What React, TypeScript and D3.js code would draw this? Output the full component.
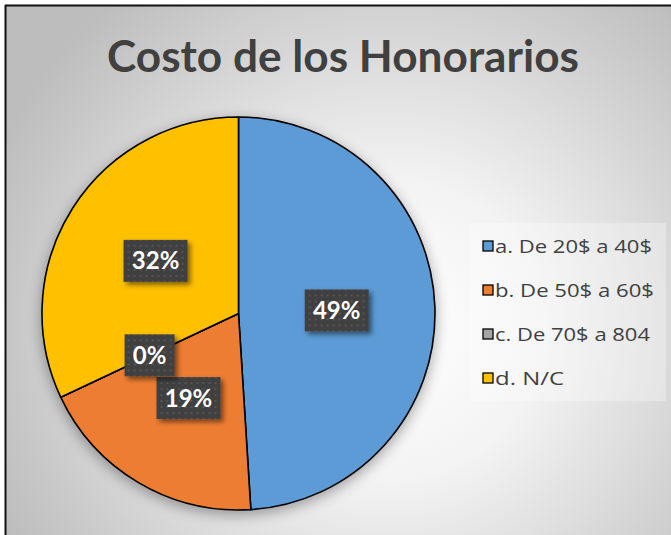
import React from "react";
import * as d3 from "d3";

const categories = ["a. De 20$ a 40$", "b. De 50$ a 60$", "c. De 70$ a 804", "d. N/C"];
const values = [49, 19, 0, 32];
const colors = ["#5B9BD5", "#ED7D31", "#A5A5A5", "#FFC000"];
const legendWidths = [157, 159, 155, 69];
const title = "Costo de los Honorarios";

export default function App() {
  const W = 671, H = 535;
  const cx = 238.5, cy = 313.5, r = 196.5;
  const pie = d3.pie<number>().sort(null).value((d) => d);
  const arcs = pie(values);
  const arc = d3.arc<d3.PieArcDatum<number>>().innerRadius(0).outerRadius(r);
  const total = d3.sum(values);
  const fmt = (v: number) => `${Math.round((v / total) * 100)}%`;
  const font = "Lato, 'Open Sans', sans-serif";

  return (
    <svg width={W} height={H} style={{ position: "absolute", left: 0, top: 0 }}>
      <defs>
        <radialGradient id="bg" cx="390" cy="330" r="430" gradientUnits="userSpaceOnUse">
          <stop offset="0" stopColor="#ffffff" />
          <stop offset="0.35" stopColor="#f3f3f3" />
          <stop offset="1" stopColor="#bdbdbd" />
        </radialGradient>
        <pattern id="dots" width="6" height="6" patternUnits="userSpaceOnUse">
          <rect width="6" height="6" fill="#404040" />
          <rect x="2" y="2" width="2" height="2" fill="#555555" />
        </pattern>
        <filter id="pieShadow" x="-20%" y="-20%" width="140%" height="140%">
          <feGaussianBlur in="SourceAlpha" stdDeviation="7" />
          <feOffset dx="0" dy="4" result="b" />
          <feComponentTransfer><feFuncA type="linear" slope="0.35" /></feComponentTransfer>
          <feMerge><feMergeNode /><feMergeNode in="SourceGraphic" /></feMerge>
        </filter>
        <filter id="lblShadow" x="-30%" y="-30%" width="160%" height="160%">
          <feGaussianBlur in="SourceAlpha" stdDeviation="2.5" />
          <feOffset dx="3" dy="3" />
          <feComponentTransfer><feFuncA type="linear" slope="0.5" /></feComponentTransfer>
          <feMerge><feMergeNode /><feMergeNode in="SourceGraphic" /></feMerge>
        </filter>
      </defs>
      <rect x={0} y={0} width={W} height={H} fill="#ffffff" />
      <rect x={6} y={6} width={W} height={H} fill="url(#bg)" />
      <line x1={5.5} y1={5} x2={5.5} y2={H} stroke="#111" strokeWidth={2} />
      <line x1={5} y1={5.5} x2={W} y2={5.5} stroke="#111" strokeWidth={2} />

      <text x={343} y={72} textAnchor="middle" fontFamily={font} fontWeight="bold" fontSize={44}
        fill="#404040" textLength={472} lengthAdjust="spacingAndGlyphs">{title}</text>

      <g transform={`translate(${cx},${cy})`}>
        <g filter="url(#pieShadow)">
          {arcs.map((a, i) => (
            <path key={i} d={arc(a) || ""} fill={colors[i]} stroke="#000" strokeWidth={1.6} strokeLinejoin="round" />
          ))}
        </g>
        {arcs.map((a, i) => {
          const [lx, ly] = arc.centroid(a);
          const txt = fmt(values[i]);
          const bw = txt.length > 2 ? 64 : 50;
          const bh = 42;
          return (
            <g key={"l" + i} transform={`translate(${lx},${ly})`}>
              <rect x={-bw / 2} y={-bh / 2} width={bw} height={bh} fill="url(#dots)" filter="url(#lblShadow)" />
              <text x={0} y={8.5} textAnchor="middle" fontFamily={font} fontWeight="bold" fontSize={24} fill="#ffffff">{txt}</text>
            </g>
          );
        })}
      </g>

      <rect x={470} y={223} width={196} height={178} fill="#ffffff" opacity={0.3} />
      {categories.map((c, i) => {
        const y = 246 + i * 44;
        return (
          <g key={"k" + i}>
            <rect x={483} y={y - 5} width={10} height={10} fill={colors[i]} stroke="#000" strokeWidth={1.3} />
            <text x={495} y={y + 7} fontFamily="'Open Sans', sans-serif" fontSize={18.5} fill="#404040"
              textLength={legendWidths[i]} lengthAdjust="spacingAndGlyphs">{c}</text>
          </g>
        );
      })}
    </svg>
  );
}
